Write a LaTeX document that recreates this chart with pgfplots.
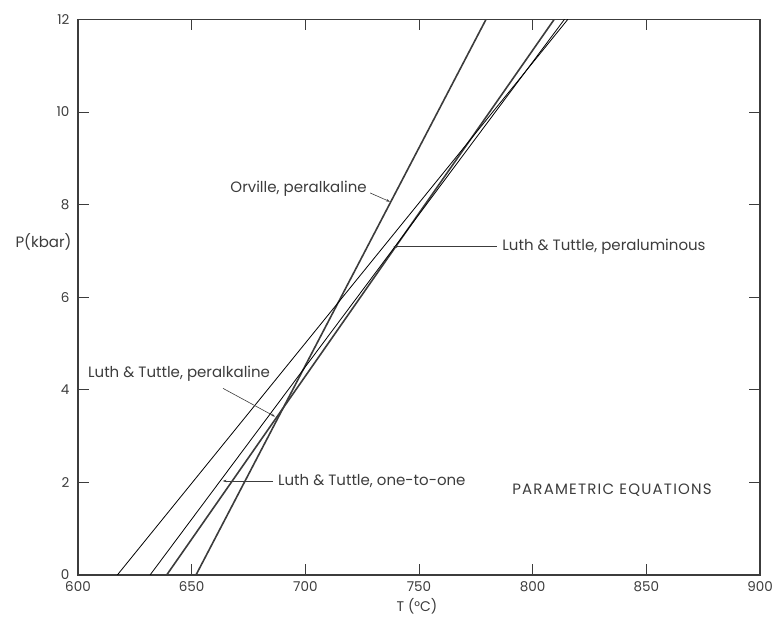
\documentclass[border=0pt]{standalone}
\usepackage{fontspec}
\setmainfont{Poppins}
\usepackage{pgfplots}
\pgfplotsset{compat=1.18}
\usetikzlibrary{arrows.meta}
\definecolor{ink}{RGB}{60,60,60}
\definecolor{thin}{RGB}{135,135,135}
\begin{document}
\begin{tikzpicture}
\useasboundingbox (-78pt,-46pt) rectangle (696pt,575pt);
\begin{axis}[
  at={(0,0)}, anchor=south west,
  scale only axis, width=682pt, height=555.7pt,
  xmin=600, xmax=900, ymin=0, ymax=12,
  xtick={600,650,...,900}, ytick={0,2,...,12},
  axis line style={ink, line width=1.2pt},
  tick style={ink, line width=0.8pt},
  major tick length=11pt,
  tick align=inside,
  /pgf/number format/assume math mode=true,
  every tick label/.append style={font=\fontsize{13.5}{15}\selectfont, text=ink},
  xticklabel style={yshift=-3pt},
  yticklabel style={xshift=-5pt},
  clip=true,
]
% Orville, peralkaline
\addplot[ink, line width=1.6pt] coordinates {(651.9,0) (779.5,12)};
% Luth & Tuttle (thick)
\addplot[ink, line width=1.6pt] coordinates {(639.0,0) (809.5,12)};
% Luth & Tuttle (thin)
\addplot[thin, line width=0.8pt] coordinates {(631.7,0) (814.0,12)};
\addplot[thin, line width=0.8pt] coordinates {(617.3,0) (815.5,12)};

\begin{scope}[every node/.style={font=\fontsize{15}{17}\selectfont, text=ink}]
\draw[ink, line width=0.6pt, -{Stealth[length=4pt,width=2.5pt]}] (axis cs:728.5,8.25) -- (axis cs:737.3,8.06);
\node[anchor=east, inner sep=1pt] at (axis cs:727.5,8.35) {Orville, peralkaline};

\draw[ink, line width=0.6pt, -{Stealth[length=4pt,width=2.5pt]}] (axis cs:784.2,7.09) -- (axis cs:738.7,7.09);
\node[anchor=west, inner sep=1pt] at (axis cs:786.2,7.09) {Luth \& Tuttle, peraluminous};

\draw[ink, line width=0.6pt, -{Stealth[length=4pt,width=2.5pt]}] (axis cs:663.8,4.03) -- (axis cs:686.7,3.42);
\node[anchor=east, inner sep=1pt] at (axis cs:685.0,4.35) {Luth \& Tuttle, peralkaline};

\draw[ink, line width=0.6pt, -{Stealth[length=4pt,width=2.5pt]}] (axis cs:685.8,2.03) -- (axis cs:663.6,2.03);
\node[anchor=west, inner sep=1pt] at (axis cs:687.5,2.03) {Luth \& Tuttle, one-to-one};

\node[anchor=west, inner sep=1pt] at (axis cs:790.5,1.84) {\addfontfeature{LetterSpace=8}PARAMETRIC EQUATIONS};
\end{scope}
\end{axis}
\node[anchor=east, font=\fontsize{15}{17}\selectfont, text=ink] at (-3pt,333pt) {P(kbar)};
\node[font=\fontsize{14}{16}\selectfont, text=ink] at (339pt,-31pt) {T (°C)};
\end{tikzpicture}
\end{document}
